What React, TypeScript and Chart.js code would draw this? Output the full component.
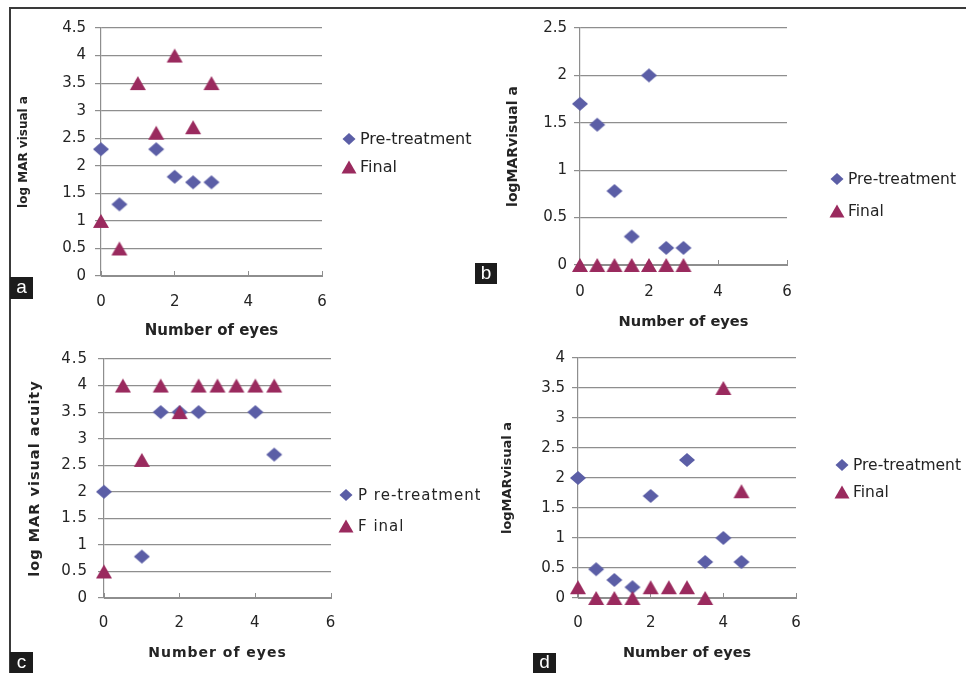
import React, { useEffect, useRef } from "react";
import { Chart, registerables } from "chart.js";

Chart.register(...registerables);

// ---------- data ----------
const seriesNames = ["Pre-treatment", "Final"];
const seriesNamesC = ["P re-treatment", "F inal"];
const xTicks = [0, 2, 4, 6];

const yTicksA = [0, 0.5, 1, 1.5, 2, 2.5, 3, 3.5, 4, 4.5];
const yTicksB = [0, 0.5, 1, 1.5, 2, 2.5];
const yTicksC = [0, 0.5, 1, 1.5, 2, 2.5, 3, 3.5, 4, 4.5];
const yTicksD = [0, 0.5, 1, 1.5, 2, 2.5, 3, 3.5, 4];

const aPreX = [0, 0.5, 1.5, 2, 2.5, 3];
const aPreY = [2.3, 1.3, 2.3, 1.8, 1.7, 1.7];
const aFinalX = [0, 0.5, 1, 1.5, 2, 2.5, 3];
const aFinalY = [1, 0.5, 3.5, 2.6, 4, 2.7, 3.5];

const bPreX = [0, 0.5, 1, 1.5, 2, 2.5, 3];
const bPreY = [1.7, 1.48, 0.78, 0.3, 2, 0.18, 0.18];
const bFinalX = [0, 0.5, 1, 1.5, 2, 2.5, 3];
const bFinalY = [0, 0, 0, 0, 0, 0, 0];

const cPreX = [0, 1, 1.5, 2, 2.5, 4, 4.5];
const cPreY = [2, 0.78, 3.5, 3.5, 3.5, 3.5, 2.7];
const cFinalX = [0, 0.5, 1, 1.5, 2, 2.5, 3, 3.5, 4, 4.5];
const cFinalY = [0.5, 4, 2.6, 4, 3.5, 4, 4, 4, 4, 4];

const dPreX = [0, 0.5, 1, 1.5, 2, 3, 3.5, 4, 4.5];
const dPreY = [2, 0.48, 0.3, 0.18, 1.7, 2.3, 0.6, 1, 0.6];
const dFinalX = [0, 0.5, 1, 1.5, 2, 2.5, 3, 3.5, 4, 4.5];
const dFinalY = [0.18, 0, 0, 0, 0.18, 0.18, 0.18, 0, 3.5, 1.78];

// ---------- styles ----------
const PRE_COLOR = "#5b5ea6";
const FINAL_COLOR = "#9a2a5e";
const GRID_COLOR = "#8e8e8e";
const TEXT_COLOR = "#242424";
const FONT = "'DejaVu Sans', Verdana, sans-serif";

const toPoints = (xs: number[], ys: number[]) => xs.map((x, i) => ({ x, y: ys[i] }));

function shapePath(ctx: CanvasRenderingContext2D, kind: string, cx: number, cy: number, w: number, h: number) {
  ctx.beginPath();
  if (kind === "diamond") {
    ctx.moveTo(cx, cy - h / 2);
    ctx.lineTo(cx + w / 2, cy);
    ctx.lineTo(cx, cy + h / 2);
    ctx.lineTo(cx - w / 2, cy);
  } else {
    ctx.moveTo(cx, cy - h / 2);
    ctx.lineTo(cx + w / 2, cy + h / 2);
    ctx.lineTo(cx - w / 2, cy + h / 2);
  }
  ctx.closePath();
}

function markerImage(kind: string, color: string, w: number, h: number) {
  const c = document.createElement("canvas");
  c.width = Math.ceil(w) + 2;
  c.height = Math.ceil(h) + 2;
  const ctx = c.getContext("2d")!;
  ctx.fillStyle = color;
  shapePath(ctx, kind, c.width / 2, c.height / 2, w, h);
  ctx.fill();
  return c;
}

const sideLegend = {
  id: "sideLegend",
  beforeDraw(chart: any, _args: any, opts: any) {
    if (opts && opts.spacing) (chart.ctx as any).letterSpacing = opts.spacing;
  },
  afterDraw(chart: any, _args: any, opts: any) {
    const { ctx, chartArea } = chart;
    ctx.save();
    chart.data.datasets.forEach((ds: any, i: number) => {
      const y = chartArea.top + opts.ys[i];
      ctx.fillStyle = ds.backgroundColor;
      const kind = i === 0 ? "diamond" : "triangle";
      const size = opts.sizes[i];
      shapePath(ctx, kind, chartArea.right + opts.markerDx, y, size[0], size[1]);
      ctx.fill();
      ctx.fillStyle = TEXT_COLOR;
      ctx.font = opts.font;
      ctx.textBaseline = "middle";
      ctx.textAlign = "left";
      ctx.fillText(ds.label, chartArea.right + opts.textDx, y + 1);
    });
    ctx.restore();
  },
};

type PanelProps = {
  left: number;
  top: number;
  width: number;
  height: number;
  names: string[];
  preX: number[];
  preY: number[];
  finalX: number[];
  finalY: number[];
  yTicks: number[];
  yTitle: string;
  yTitleSize: number;
  yTitlePad: number;
  yWidth: number;
  yTickPad: number;
  xHeight: number;
  xTickPad: number;
  xTitleSize: number;
  xTitlePad: number;
  areaTop: number;
  areaRight: number;
  legendYs: number[];
  markerDx: number;
  textDx: number;
  legendFont: string;
  spacing?: string;
};

function Panel(p: PanelProps) {
  const ref = useRef<HTMLCanvasElement | null>(null);
  useEffect(() => {
    if (!ref.current) return;
    const yMax = p.yTicks[p.yTicks.length - 1];
    const diamond = markerImage("diamond", PRE_COLOR, 16, 14);
    const triangle = markerImage("triangle", FINAL_COLOR, 16, 14);
    const chart = new Chart(ref.current, {
      type: "scatter",
      data: {
        datasets: [
          {
            label: p.names[0],
            data: toPoints(p.preX, p.preY),
            backgroundColor: PRE_COLOR,
            borderColor: PRE_COLOR,
            pointStyle: diamond,
            pointRadius: 8,
            borderWidth: 0,
            clip: false,
            order: 1,
          },
          {
            label: p.names[1],
            data: toPoints(p.finalX, p.finalY),
            backgroundColor: FINAL_COLOR,
            borderColor: FINAL_COLOR,
            pointStyle: triangle,
            pointRadius: 8,
            borderWidth: 0,
            clip: false,
            order: 0,
          },
        ],
      },
      options: {
        animation: false,
        responsive: false,
        devicePixelRatio: 1,
        layout: { padding: { left: 0, top: p.areaTop, right: p.width - p.areaRight, bottom: 0 } },
        plugins: {
          legend: { display: false },
          tooltip: { enabled: false },
          sideLegend: {
            ys: p.legendYs,
            markerDx: p.markerDx,
            textDx: p.textDx,
            sizes: [
              [13, 12],
              [15, 13],
            ],
            font: p.legendFont,
            spacing: p.spacing,
          },
        } as any,
        scales: {
          x: {
            type: "linear",
            min: 0,
            max: 6,
            afterBuildTicks: (s: any) => {
              s.ticks = xTicks.map((v) => ({ value: v }));
            },
            afterFit: (s: any) => {
              s.height = p.xHeight;
            },
            ticks: {
              font: { family: FONT, size: 15 },
              color: TEXT_COLOR,
              padding: p.xTickPad,
              maxRotation: 0,
              callback: (v: any) => String(v),
            },
            grid: { display: true, drawOnChartArea: false, drawTicks: true, tickLength: -5, color: GRID_COLOR, lineWidth: 1 },
            border: { display: true, color: GRID_COLOR, width: 1 },
            title: {
              display: true,
              text: "Number of eyes",
              font: { family: FONT, size: p.xTitleSize, weight: "bold" },
              color: TEXT_COLOR,
              padding: { top: 0, bottom: p.xTitlePad },
            },
          },
          y: {
            type: "linear",
            min: 0,
            max: yMax,
            afterBuildTicks: (s: any) => {
              s.ticks = p.yTicks.map((v) => ({ value: v }));
            },
            afterFit: (s: any) => {
              s.width = p.yWidth;
            },
            ticks: {
              font: { family: FONT, size: 15 },
              color: TEXT_COLOR,
              padding: p.yTickPad,
              callback: (v: any) => String(v),
            },
            grid: { display: true, drawTicks: true, tickLength: 6, color: GRID_COLOR, lineWidth: 1.2 },
            border: { display: true, color: GRID_COLOR, width: 1.2 },
            title: {
              display: true,
              text: p.yTitle,
              font: { family: FONT, size: p.yTitleSize, weight: "bold" },
              color: TEXT_COLOR,
              padding: { top: p.yTitlePad, bottom: 0 },
            },
          },
        },
      } as any,
      plugins: [sideLegend as any],
    });
    return () => chart.destroy();
  }, []);
  return (
    <canvas
      ref={ref}
      width={p.width}
      height={p.height}
      style={{ position: "absolute", left: p.left, top: p.top, width: p.width, height: p.height }}
    />
  );
}

function Tag({ left, top, w, h, letter }: { left: number; top: number; w: number; h: number; letter: string }) {
  return (
    <div
      style={{
        position: "absolute",
        left,
        top,
        width: w,
        height: h,
        background: "#1c1c1c",
        color: "#fff",
        fontFamily: "'Liberation Sans', Arial, sans-serif",
        fontSize: 19,
        lineHeight: `${h - 2}px`,
        textAlign: "center",
      }}
    >
      {letter}
    </div>
  );
}

export default function App() {
  return (
    <div style={{ position: "absolute", left: 0, top: 0, width: 966, height: 673, background: "#fff", overflow: "hidden" }}>
      <div style={{ position: "absolute", left: 9, top: 7, width: 957, height: 0, borderTop: "2px solid #3a3a3a" }} />
      <div style={{ position: "absolute", left: 9, top: 7, width: 0, height: 666, borderLeft: "2px solid #3a3a3a" }} />
      <Panel
        left={10} top={10} width={470} height={340}
        names={seriesNames}
        preX={aPreX} preY={aPreY} finalX={aFinalX} finalY={aFinalY}
        yTicks={yTicksA}
        yTitle="log MAR visual a" yTitleSize={12} yTitlePad={6.3}
        yWidth={91} yTickPad={9}
        xHeight={74} xTickPad={22} xTitleSize={15} xTitlePad={10}
        areaTop={17} areaRight={312}
        legendYs={[111, 139]} markerDx={27} textDx={38}
        legendFont={`16px ${FONT}`}
      />
      <Panel
        left={480} top={10} width={486} height={330}
        names={seriesNames}
        preX={bPreX} preY={bPreY} finalX={bFinalX} finalY={bFinalY}
        yTicks={yTicksB}
        yTitle="logMARvisual a" yTitleSize={14} yTitlePad={24.6}
        yWidth={100} yTickPad={7}
        xHeight={75} xTickPad={23} xTitleSize={14.6} xTitlePad={9.2}
        areaTop={18} areaRight={307}
        legendYs={[151, 183]} markerDx={50} textDx={61}
        legendFont={`15.5px ${FONT}`}
      />
      <Panel
        left={10} top={340} width={470} height={333}
        names={seriesNamesC}
        preX={cPreX} preY={cPreY} finalX={cFinalX} finalY={cFinalY}
        yTicks={yTicksC}
        yTitle="log MAR visual acuity" yTitleSize={14.5} yTitlePad={16.3}
        yWidth={94} yTickPad={10}
        xHeight={75} xTickPad={21} xTitleSize={14} xTitlePad={11.6}
        areaTop={18} areaRight={321}
        legendYs={[136, 167]} markerDx={15} textDx={27}
        legendFont={`15px ${FONT}`}
        spacing="1px"
      />
      <Panel
        left={480} top={340} width={486} height={333}
        names={seriesNames}
        preX={dPreX} preY={dPreY} finalX={dFinalX} finalY={dFinalY}
        yTicks={yTicksD}
        yTitle="logMARvisual a" yTitleSize={13} yTitlePad={20.2}
        yWidth={98} yTickPad={7}
        xHeight={75} xTickPad={21} xTitleSize={14.4} xTitlePad={11.4}
        areaTop={18} areaRight={316}
        legendYs={[107, 134]} markerDx={46} textDx={57}
        legendFont={`15.5px ${FONT}`}
      />
      <Tag left={10} top={277} w={23} h={22} letter="a" />
      <Tag left={475} top={263} w={22} h={21} letter="b" />
      <Tag left={10} top={652} w={23} h={21} letter="c" />
      <Tag left={533} top={653} w={23} h={20} letter="d" />
    </div>
  );
}
